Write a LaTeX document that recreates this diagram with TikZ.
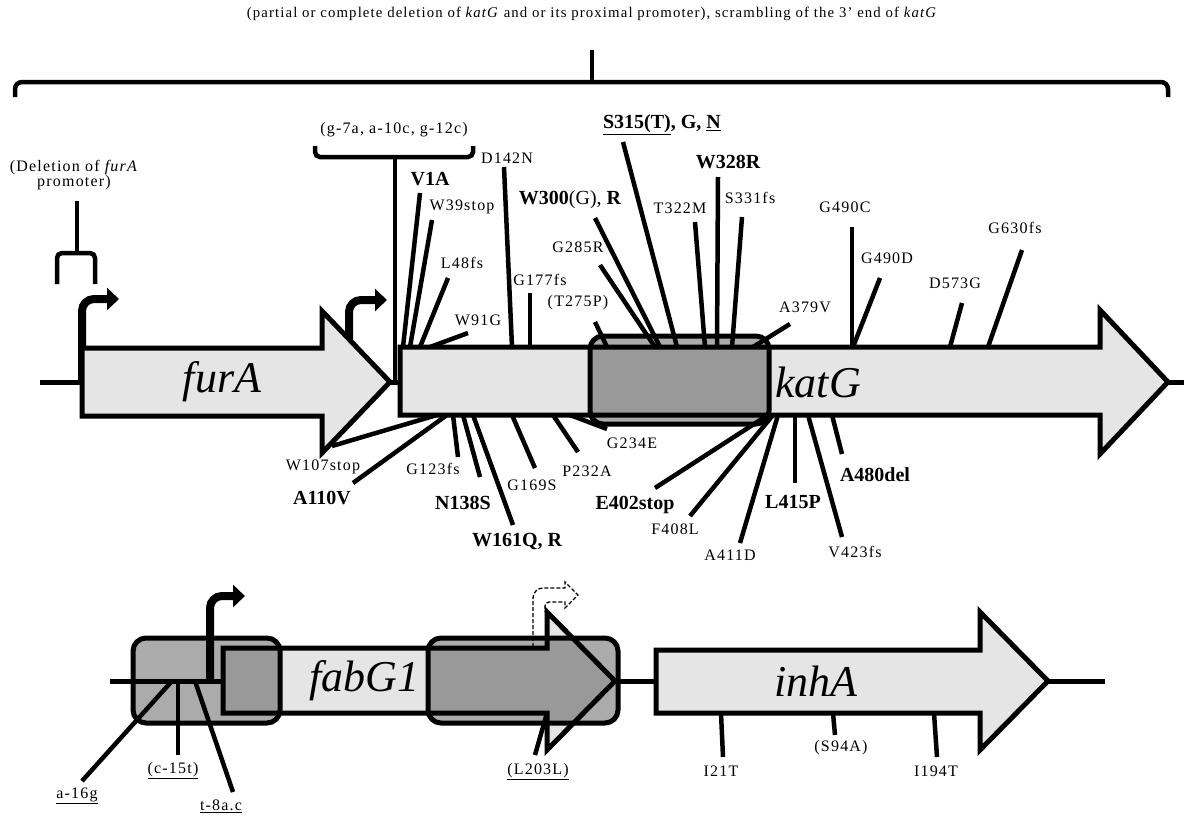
\documentclass[tikz,border=0pt]{standalone}
\usepackage{fontspec}
\setmainfont{Liberation Serif}
\newfontfamily\labelfont{Liberation Serif}[LetterSpace=7.5]
\usetikzlibrary{arrows.meta}
\definecolor{genegray}{gray}{0.9}
\newcommand\mutbold{\normalfont\fontsize{20}{20}\selectfont\bfseries}

\begin{document}
\begin{tikzpicture}[x=1pt,y=-1pt,
    gene/.style={draw=black,line width=5pt,fill=genegray},
    hotspot/.style={draw=black,line width=5pt,fill=black,fill opacity=0.33,rounded corners=13pt},
    dna/.style={line width=5pt},
    mut/.style={line width=4.5pt},
    brak/.style={line width=4.5pt,rounded corners=5pt},
    prom/.style={line width=8pt,rounded corners=12pt,-{Triangle[length=12pt,width=22pt]}},
    lbl/.style={font={\labelfont\fontsize{16}{16}\selectfont},inner sep=0pt},
    gname/.style={font={\fontsize{44}{44}\selectfont\itshape},inner sep=0pt}]
    \useasboundingbox (0,0) rectangle (1184,817);

    % big brace over the whole region
    \node[lbl,font={\labelfont\fontsize{14.8}{15}\selectfont}] (title) at (592,14) {(partial or complete deletion of \textit{katG} and or its proximal promoter), scrambling of the 3’ end of \textit{katG}};
    \coordinate (bigstem) at (592,50);
    \draw[brak,rounded corners=7pt] (15,97) -- (15,82) -- (1168,82) -- (1168,97);
    \draw[brak] (592,82) -- (bigstem);

    % furA - katG row
    \draw[dna] (40,382) -- (1184,382);
    \draw[prom] (82,382) -- (82,299) -- (119,299);
    \draw[prom] (349,382) -- (349,300) -- (387,300);
    \draw[gene] (82,348) -- (322,348) -- (322,311) -- (390,382) -- (322,453) -- (322,416) -- (82,416) -- cycle;
    \draw[gene] (400,347) -- (1100,347) -- (1100,310) -- (1168,382) -- (1100,454) -- (1100,415) -- (400,415) -- cycle;
    \draw[hotspot] (590,336) rectangle (769,424);
    \node[gname] (furA) at (222,382) {furA};
    \node[gname] (katG) at (818,382) {katG};

    % furA promoter deletion
    \node[lbl,font={\labelfont\fontsize{16}{15}\selectfont},align=center] (furprom) at (74,175) {(Deletion of \textit{furA}\\promoter)};
    \draw[brak] (57,284) -- (57,253) -- (95,253) -- (95,284);
    \draw[brak] (77,253) -- (77,201);

    % katG promoter
    \node[lbl] (katprom) at (394,130) {(g-7a, a-10c, g-12c)};
    \draw[brak] (315,146) -- (315,157) -- (473,157) -- (473,146);
    \coordinate (katstem) at (395,382);
    \draw[brak] (395,157) -- (katstem);

    % mutations above katG
    \foreach \n/\bx/\tx/\ty/\lx/\ly/\txt in {
        V1A/403/420/193/430/179/{\mutbold V1A},
        W39/410/432/220/462/207/{W39stop},
        L48/420/448/278/462/263/{L48fs},
        W91/430/468/333/478/320/{W91G},
        D142/512/504/167/507/158/{D142N},
        G177/530/530/293/540/280/{G177fs},
        T275/607/595/322/578/303/{(T275P)},
        G285/655/600/265/578/247/{G285R},
        W300/660/595/218/570/200/{\mutbold W300\mdseries(G), \bfseries R},
        S315/677/623/142/662/125/{\mutbold\underline{S315(T)}, G, \underline{N}},
        T322/705/695/222/680/208/{T322M},
        W328/717/718/177/728/162/{\mutbold W328R},
        S331/732/742/217/750/198/{S331fs},
        A379/753/790/324/805/307/{A379V},
        G490C/852/852/227/845/207/{G490C},
        G490D/853/880/278/887/258/{G490D},
        D573/950/962/303/955/283/{D573G},
        G630/988/1022/250/1015/228/{G630fs}}{
        \coordinate (\n-b) at (\bx,347);
        \coordinate (\n-t) at (\tx,\ty);
        \draw[mut] (\n-b) -- (\n-t);
        \node[lbl] (\n) at (\lx,\ly) {\txt};
    }

    % mutations below katG
    \foreach \n/\bx/\tx/\ty/\lx/\ly/\txt in {
        W107/437/332/446/323/467/{W107stop},
        A110/447/353/483/322/498/{\mutbold A110V},
        G123/453/458/457/433/469/{G123fs},
        N138/463/480/477/463/503/{\mutbold N138S},
        W161/473/513/525/517/541/{\mutbold W161Q, R},
        G169/512/535/468/532/485/{G169S},
        P232/553/578/452/587/471/{P232A},
        G234/570/607/429/632/443/{G234E},
        E402/768/655/488/635/505/{\mutbold E402stop},
        F408/773/690/516/675/529/{F408L},
        A411/778/740/543/730/555/{A411D},
        L415/795/795/483/793/502/{\mutbold L415P},
        V423/808/842/537/855/552/{V423fs},
        A480/832/842/454/875/475/{\mutbold A480del}}{
        \coordinate (\n-b) at (\bx,415);
        \coordinate (\n-t) at (\tx,\ty);
        \draw[mut] (\n-b) -- (\n-t);
        \node[lbl] (\n) at (\lx,\ly) {\txt};
    }

    % fabG1 - inhA row
    \draw[dna] (110,681) -- (1105,681);
    \draw[prom] (210,681) -- (210,596) -- (245,596);
    \draw[gene] (223,648) -- (547,648) -- (547,612) -- (615,681) -- (547,750) -- (547,713) -- (223,713) -- cycle;
    \draw[gene] (656,650) -- (980,650) -- (980,612) -- (1048,681) -- (980,750) -- (980,713) -- (656,713) -- cycle;
    \draw[line width=1.3pt,dash pattern=on 4pt off 2pt] (533,647) [rounded corners=10pt] -- (533,588) [sharp corners] -- (565,588) -- (565,582) -- (578,595) -- (565,608) -- (565,602) [rounded corners=4pt] -- (545,602) [sharp corners] -- (545,612);
    \draw[hotspot] (133,638) rectangle (280,723);
    \draw[hotspot] (428,638) rectangle (618,723);
    \node[gname] (fabG1) at (364,681) {fabG1};
    \node[gname] (inhA) at (816,681) {inhA};

    \foreach \n/\bx/\by/\tx/\ty/\lx/\ly/\txt in {
        a16/172/681/82/781/77/796/{\underline{a-16g}},
        c15/178/681/178/755/173/771/{\underline{(c-15t)}},
        t8/195/681/233/792/221/806/{\underline{t-8a.c}},
        L203/547/713/535/755/538/772/{\underline{(L203L)}},
        I21/721/713/723/757/721/771/{I21T},
        S94/833/713/835/735/841/748/{(S94A)},
        I194/934/713/937/757/936/771/{I194T}}{
        \coordinate (\n-b) at (\bx,\by);
        \coordinate (\n-t) at (\tx,\ty);
        \draw[mut] (\n-b) -- (\n-t);
        \node[lbl] (\n) at (\lx,\ly) {\txt};
    }
\end{tikzpicture}
\end{document}
